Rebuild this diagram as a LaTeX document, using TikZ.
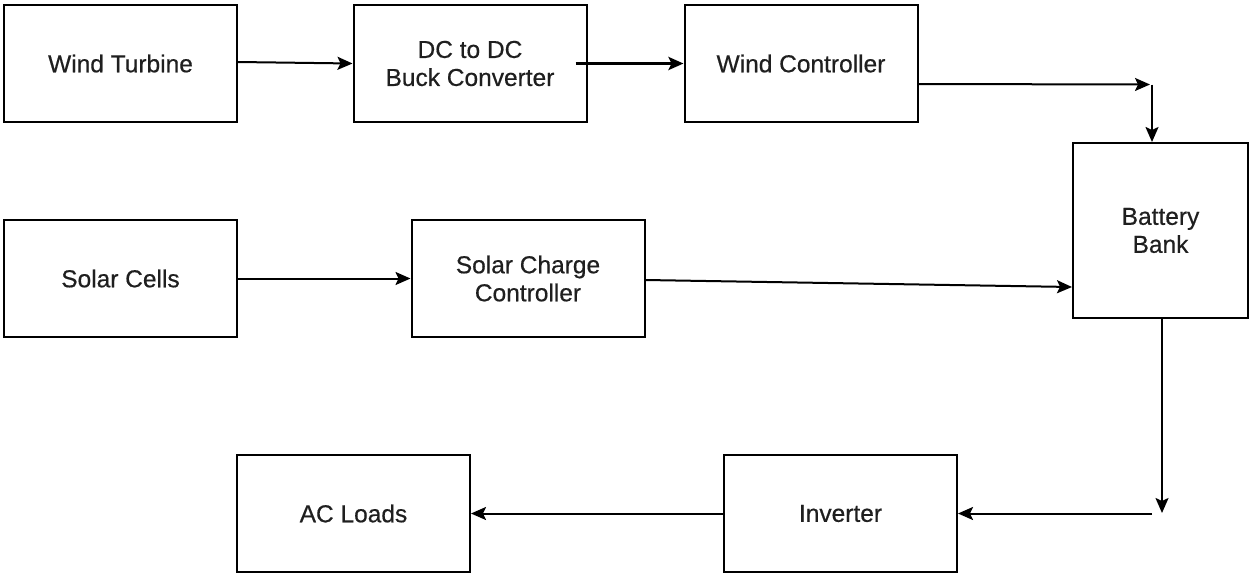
\documentclass[tikz,border=0pt]{standalone}
\usepackage{fontspec}
\setmainfont{Liberation Sans}
\newfontfamily\semibfont{Liberation Sans}[FakeBold=0.5]
\usetikzlibrary{arrows.meta}
\begin{document}
\begin{tikzpicture}[x=1pt,y=-1pt,
  blk/.style={draw=black,line width=2pt,fill=white,inner sep=0pt,minimum height=117pt,
    align=center,font=\semibfont\fontsize{24.5}{28}\selectfont,text=black!88},
  wide/.style={blk,minimum width=233pt},
  arr/.style={line width=2pt,-{Stealth[length=15pt,width=13pt,inset=3pt]}}]
\useasboundingbox[fill=white] (0,0) rectangle (1250,574);
% nodes
\node[wide] (wt)  at (120.5,63.5) {Wind Turbine};
\node[wide] (dc)  at (470,63.5) {DC to DC\\Buck Converter};
\node[wide] (wc)  at (801,63.5) {Wind Controller};
\node[blk,minimum width=175pt,minimum height=175pt] (bb) at (1160.5,230.5) {Battery\\Bank};
\node[wide] (sc)  at (120.5,278.5) {Solar Cells};
\node[wide] (scc) at (528,278.5) {Solar Charge\\Controller};
\node[wide] (ac)  at (353.5,513.5) {AC Loads};
\node[wide] (inv) at (840.5,513.5) {Inverter};
% helper coordinates
\coordinate (w1) at ([yshift=-20.5pt]wc.east);
\coordinate (c1a) at (1150,84.5);
\coordinate (c1) at (1152,84.5);
\coordinate (c2) at (1162,513);
\coordinate (c3) at (1152,513.5);
% connectors
\draw[arr] ([yshift=1.5pt]wt.east) -- (dc.west);
\draw[arr,line width=3pt] ([xshift=-12pt]dc.east) -- (wc.west);
\draw[arr] (w1) -- (c1a);
\draw[arr] (c1) -- (c1 |- bb.north);
\draw[arr] ([yshift=-1.5pt]scc.east) -- ([yshift=-56.5pt]bb.west);
\draw[arr] (sc.east) -- (scc.west);
\draw[arr] (bb.south -| c2) -- (c2);
\draw[arr] (c3) -- (inv.east);
\draw[arr] (inv.west) -- (ac.east);
\end{tikzpicture}
\end{document}
